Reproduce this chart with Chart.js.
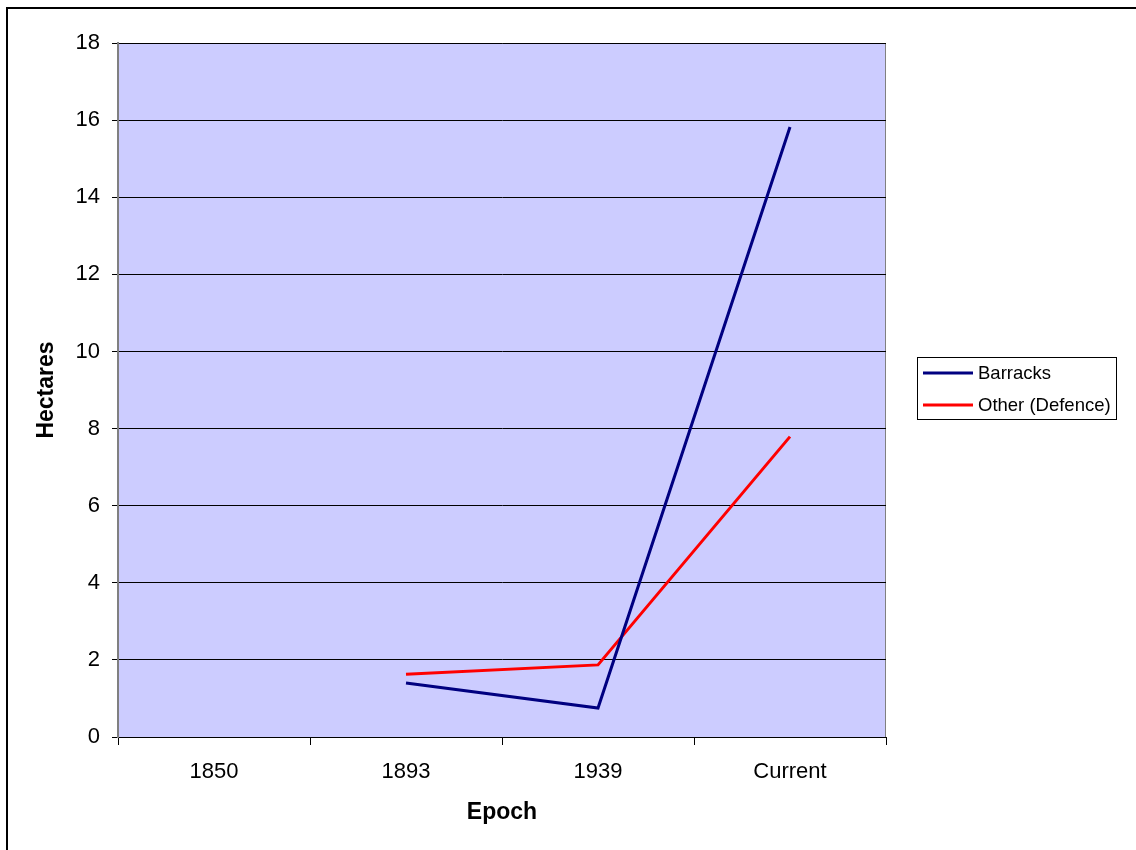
<!DOCTYPE html>
<html>
<head>
<meta charset="utf-8">
<script src="https://cdn.jsdelivr.net/npm/chart.js@4/dist/chart.umd.min.js"></script>
<style>
html,body{margin:0;padding:0;background:#fff;}
#wrap{width:1136px;height:850px;position:relative;}
</style>
</head>
<body>
<div id="wrap"><canvas id="c" width="1136" height="850"></canvas></div>
<script>
const categories = ['1850', '1893', '1939', 'Current'];
const barracks = [null, 1.40, 0.75, 15.82];
const otherDefence = [null, 1.63, 1.87, 7.79];
const seriesLabels = ['Barracks', 'Other (Defence)'];
const yTicks = [0, 2, 4, 6, 8, 10, 12, 14, 16, 18];
const FONT = '"Liberation Sans", Arial, sans-serif';

const decor = {
  id: 'decor',
  beforeDraw(chart) {
    const ctx = chart.ctx, a = chart.chartArea;
    ctx.save();
    ctx.fillStyle = '#fff';
    ctx.fillRect(0, 0, chart.width, chart.height);
    ctx.strokeStyle = '#000';
    ctx.lineWidth = 2;
    ctx.beginPath();
    ctx.moveTo(7, 860); ctx.lineTo(7, 8); ctx.lineTo(1150, 8);
    ctx.stroke();
    ctx.fillStyle = '#CCCCFF';
    ctx.fillRect(a.left, a.top, a.right - a.left, a.bottom - a.top);
    ctx.strokeStyle = '#808080';
    ctx.lineWidth = 1;
    ctx.strokeRect(a.left + 0.5, a.top + 0.5, a.right - a.left - 1, a.bottom - a.top);
    ctx.restore();
  },
  afterDraw(chart) {
    const ctx = chart.ctx;
    ctx.save();
    const bx = 917, by = 357, bw = 199, bh = 62;
    ctx.fillStyle = '#fff';
    ctx.fillRect(bx, by, bw, bh);
    ctx.strokeStyle = '#000';
    ctx.lineWidth = 1;
    ctx.strokeRect(bx + 0.5, by + 0.5, bw, bh);
    ctx.font = '18.5px ' + FONT;
    ctx.textBaseline = 'middle';
    chart.data.datasets.forEach((ds, i) => {
      const y = by + 16 + i * 32;
      ctx.strokeStyle = ds.borderColor;
      ctx.lineWidth = 3;
      ctx.beginPath();
      ctx.moveTo(923, y); ctx.lineTo(973, y);
      ctx.stroke();
      ctx.fillStyle = '#000';
      ctx.fillText(ds.label, 978, y + 1);
    });
    ctx.restore();
  }
};

new Chart(document.getElementById('c'), {
  type: 'line',
  data: {
    labels: categories,
    datasets: [
      { label: seriesLabels[0], data: barracks, borderColor: '#000080', borderWidth: 3, pointRadius: 0, tension: 0, spanGaps: false },
      { label: seriesLabels[1], data: otherDefence, borderColor: '#FF0000', borderWidth: 3, pointRadius: 0, tension: 0, spanGaps: false }
    ]
  },
  options: {
    responsive: false,
    animation: false,
    devicePixelRatio: 1,
    layout: { padding: { top: 43, right: 250, bottom: 0, left: 0 } },
    plugins: { legend: { display: false }, tooltip: { enabled: false } },
    scales: {
      x: {
        offset: true,
        grid: { offset: true, drawOnChartArea: false, drawTicks: true, tickLength: 8, color: '#000', tickColor: '#000' },
        border: { color: '#000', width: 1 },
        ticks: { color: '#000', font: { family: FONT, size: 22 }, padding: 14, maxRotation: 0 },
        title: { display: true, text: 'Epoch', color: '#000', font: { family: FONT, size: 23, weight: 'bold' }, padding: { top: 0, bottom: 24 } },
        afterFit(s) { s.height = 113; }
      },
      y: {
        min: 0, max: 18,
        afterBuildTicks(s) { s.ticks = yTicks.map(v => ({ value: v })); },
        grid: { drawTicks: true, tickLength: 6, color: '#000', tickColor: '#000' },
        border: { color: '#808080', width: 2 },
        ticks: { color: '#000', font: { family: FONT, size: 22 }, padding: 12 },
        title: { display: true, text: 'Hectares', color: '#000', font: { family: FONT, size: 23, weight: 'bold' }, padding: { top: 33, bottom: 0 } },
        afterFit(s) { s.width = 118; }
      }
    }
  },
  plugins: [decor]
});
</script>
</body>
</html>
